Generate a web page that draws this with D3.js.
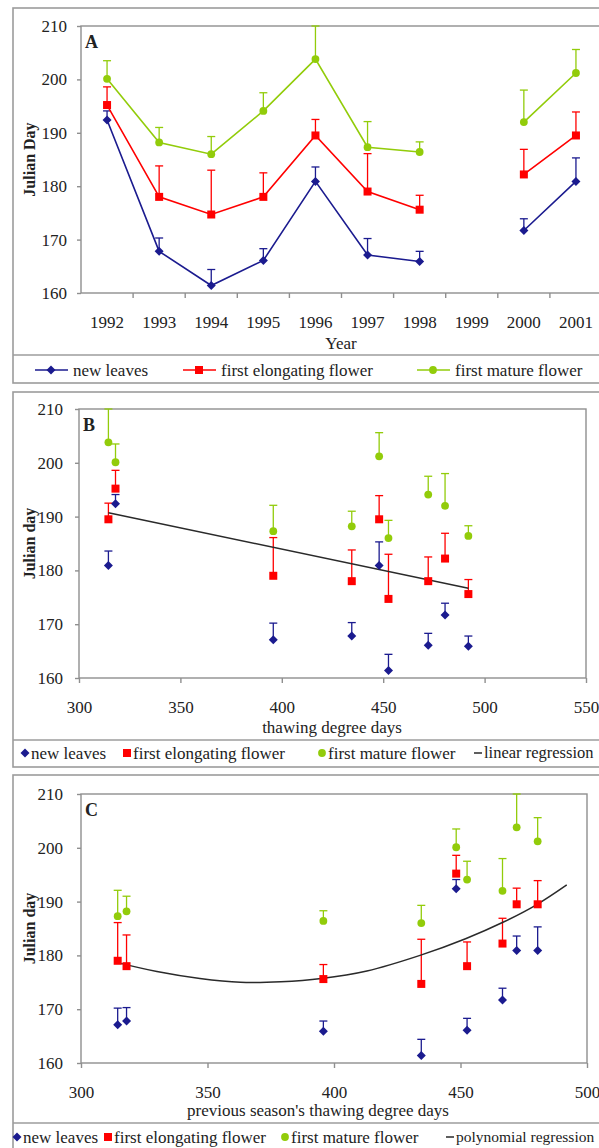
<!DOCTYPE html>
<html>
<head>
<meta charset="utf-8">
<script src="https://d3js.org/d3.v7.min.js"></script>
<style>
body { margin: 0; background: #fff; }
svg text { font-family: "Liberation Serif", "Times New Roman", serif; fill: #222; }
</style>
</head>
<body>
<div id="c"></div>
<script>
// phenology means and upper error (per year)
var years = ['1992', '1993', '1994', '1995', '1996', '1997', '1998', '1999', '2000', '2001'];

var new_leaves    = [192.4, 167.8, 161.4, 166.1, 180.9, 167.1, 165.9, null, 171.7, 180.9];
var new_leaves_se = [1.7, 2.5, 3.0, 2.2, 2.7, 3.1, 1.9, null, 2.2, 4.4];

var elong_flower    = [195.2, 178.0, 174.7, 178.0, 189.5, 179.0, 175.6, null, 182.2, 189.5];
var elong_flower_se = [3.4, 5.8, 8.3, 4.5, 3.0, 7.1, 2.7, null, 4.7, 4.4];

var mature_flower    = [200.1, 188.2, 186.0, 194.1, 203.8, 187.3, 186.4, null, 192.0, 201.2];
var mature_flower_se = [3.4, 2.8, 3.3, 3.4, 6.2, 4.8, 1.9, null, 6.0, 4.4];

// thawing degree days of the season and of the previous season
var tdd      = [318.0, 434.5, 452.6, 472.2, 314.5, 395.8, 492.0, null, 480.5, 448.0];
var prev_tdd = [448.3, 318.0, 434.5, 452.6, 472.2, 314.5, 395.8, null, 466.6, 480.5];

// fitted lines as drawn
var lin_x = [314.5, 492];
var lin_y = [190.7, 176.7];
var poly_x = [314, 330, 347, 363, 379, 395, 413, 434, 452, 467, 480, 492];
var poly_y = [178.7, 177.0, 175.7, 175.0, 175.1, 175.7, 177.1, 180.0, 183.1, 186.2, 189.4, 193.1];

var y_ticks = [160, 170, 180, 190, 200, 210];
var b_ticks = [300, 350, 400, 450, 500, 550];
var c_ticks = [300, 350, 400, 450, 500];

var width = 599, height = 1148;
var frame_col = '#8f8f8f';

var series = [
	{ name: 'new leaves', vals: new_leaves, se: new_leaves_se, color: '#1b1b8f', shape: 'diamond' },
	{ name: 'first elongating flower', vals: elong_flower, se: elong_flower_se, color: '#ff0000', shape: 'square' },
	{ name: 'first mature flower', vals: mature_flower, se: mature_flower_se, color: '#92cc0a', shape: 'circle' }
];

var svg = d3.select('#c').append('svg')
	.attr('width', width)
	.attr('height', height)
	.attr('font-family', '"Liberation Serif", serif');

function draw_marker(g, shape, x, y, color) {
	if (shape == 'diamond') {
		g.append('path')
			.attr('d', 'M' + x + ',' + (y - 4.5) + 'L' + (x + 4.5) + ',' + y + 'L' + x + ',' + (y + 4.5) + 'L' + (x - 4.5) + ',' + y + 'Z')
			.attr('fill', color);
	} else if (shape == 'square') {
		g.append('rect')
			.attr('x', x - 4).attr('y', y - 4)
			.attr('width', 8).attr('height', 8)
			.attr('fill', color);
	} else {
		g.append('circle')
			.attr('cx', x).attr('cy', y).attr('r', 3.9)
			.attr('fill', color);
	}
}

function draw_errbar(g, x, y0, y1, color) {
	g.append('line').attr('x1', x).attr('x2', x).attr('y1', y0).attr('y2', y1)
		.attr('stroke', color).attr('stroke-width', 1.3);
	g.append('line').attr('x1', x - 4).attr('x2', x + 4).attr('y1', y1).attr('y2', y1)
		.attr('stroke', color).attr('stroke-width', 1.3);
}

// outer box, plot box, y axis, y title, panel letter
function draw_frame(p, y_scale) {
	var g = svg.append('g');
	g.append('rect')
		.attr('x', 13).attr('y', p.box_top)
		.attr('width', 620).attr('height', p.box_bottom - p.box_top)
		.attr('fill', 'none').attr('stroke', '#9c9c9c').attr('stroke-width', 1.6);
	g.append('line')
		.attr('x1', 13).attr('x2', 640).attr('y1', p.sep).attr('y2', p.sep)
		.attr('stroke', '#9c9c9c').attr('stroke-width', 1.6);
	g.append('rect')
		.attr('x', p.left).attr('y', p.top)
		.attr('width', p.right - p.left).attr('height', p.bottom - p.top)
		.attr('fill', 'none').attr('stroke', frame_col).attr('stroke-width', 1.4);

	var ya = g.append('g')
		.attr('transform', 'translate(' + p.left + ',0)')
		.call(d3.axisLeft(y_scale).tickValues(y_ticks).tickSize(4).tickPadding(p.ypad));
	ya.attr('font-family', null);
	ya.select('.domain').remove();
	ya.selectAll('line').attr('stroke', frame_col).attr('stroke-width', 1.4);
	ya.selectAll('text').attr('font-size', 17);

	g.append('text')
		.attr('transform', 'translate(29,' + ((p.top + p.bottom) / 2) + ') rotate(-90)')
		.attr('text-anchor', 'middle')
		.attr('dy', '0.35em')
		.attr('font-size', 16)
		.attr('font-weight', 'bold')
		.text(p.ytitle);

	g.append('text')
		.attr('x', p.left + 4).attr('y', p.top + 22)
		.attr('font-size', 18)
		.attr('font-weight', 'bold')
		.text(p.letter);

	g.append('text')
		.attr('x', p.title_x).attr('y', p.title_y)
		.attr('text-anchor', 'middle')
		.attr('dy', '0.35em')
		.attr('font-size', 17)
		.text(p.xtitle);
	return g;
}

// ---------------- panel A
var pa = { box_top: 8, box_bottom: 383, sep: 355, left: 81, right: 602, top: 26, bottom: 293,
	ypad: 10, ytitle: 'Julian Day', letter: 'A', xtitle: 'Year', title_x: 341, title_y: 343 };

var a_x = d3.scaleBand().domain(years).range([pa.left, pa.right]);
var a_y = d3.scaleLinear().domain([160, 210]).range([pa.bottom, pa.top]);
var ga = draw_frame(pa, a_y);

var xa = ga.append('g')
	.attr('transform', 'translate(0,' + pa.bottom + ')')
	.call(d3.axisBottom(a_x).tickSize(0).tickPadding(23));
xa.attr('font-family', null);
xa.select('.domain').remove();
xa.selectAll('text').attr('font-size', 17);
// category tick marks sit between the years
ga.selectAll('.cat-tick')
	.data(years.slice(1))
	.enter()
	.append('line')
	.attr('x1', function(d) { return a_x(d); })
	.attr('x2', function(d) { return a_x(d); })
	.attr('y1', pa.bottom).attr('y2', pa.bottom + 5)
	.attr('stroke', frame_col).attr('stroke-width', 1.4);

function a_cx(i) { return a_x(years[i]) + a_x.bandwidth() / 2; }

series.forEach(function(s) {
	var g = ga.append('g');
	s.vals.forEach(function(v, i) {
		if (v == null) return;
		draw_errbar(g, a_cx(i), a_y(v), a_y(v + s.se[i]), s.color);
	});
	var line = d3.line()
		.defined(function(d) { return d[1] != null; })
		.x(function(d) { return a_cx(d[0]); })
		.y(function(d) { return a_y(d[1]); });
	g.append('path')
		.attr('d', line(s.vals.map(function(v, i) { return [i, v]; })))
		.attr('fill', 'none').attr('stroke', s.color).attr('stroke-width', 1.6);
	s.vals.forEach(function(v, i) {
		if (v == null) return;
		draw_marker(g, s.shape, a_cx(i), a_y(v), s.color);
	});
});

// legend A
var a_leg = [35, 183, 417];
series.forEach(function(s, k) {
	var lx = a_leg[k], ly = 370;
	ga.append('line').attr('x1', lx).attr('x2', lx + 33).attr('y1', ly).attr('y2', ly)
		.attr('stroke', s.color).attr('stroke-width', 1.6);
	draw_marker(ga, s.shape, lx + 16, ly, s.color);
	ga.append('text').attr('x', lx + 38).attr('y', ly).attr('dy', '0.33em')
		.attr('font-size', 17).text(s.name);
});

// ---------------- scatter panels B and C
function scatter_panel(p, xs, ticks, fit_x, fit_y, fit_curve, leg_pos, fit_name) {
	var x = d3.scaleLinear().domain([ticks[0], ticks[ticks.length - 1]]).range([p.left, p.right]);
	var y = d3.scaleLinear().domain([160, 210]).range([p.bottom, p.top]);
	var g = draw_frame(p, y);

	var xa = g.append('g')
		.attr('transform', 'translate(0,' + p.bottom + ')')
		.call(d3.axisBottom(x).tickValues(ticks).tickSize(5).tickPadding(18));
	xa.attr('font-family', null);
	xa.select('.domain').remove();
	xa.selectAll('line').attr('stroke', frame_col).attr('stroke-width', 1.4);
	xa.selectAll('text').attr('font-size', 17);

	series.forEach(function(s) {
		s.vals.forEach(function(v, i) {
			if (v == null) return;
			draw_errbar(g, x(xs[i]), y(v), y(v + s.se[i]), s.color);
		});
	});

	var fit = d3.line()
		.x(function(d) { return x(d[0]); })
		.y(function(d) { return y(d[1]); })
		.curve(fit_curve);
	g.append('path')
		.attr('d', fit(fit_x.map(function(v, i) { return [v, fit_y[i]]; })))
		.attr('fill', 'none').attr('stroke', '#2a2a2a').attr('stroke-width', 1.5);

	series.forEach(function(s) {
		s.vals.forEach(function(v, i) {
			if (v == null) return;
			draw_marker(g, s.shape, x(xs[i]), y(v), s.color);
		});
	});

	// legend
	var ly = p.leg_y;
	series.forEach(function(s, k) {
		draw_marker(g, s.shape, leg_pos[k], ly, s.color);
		g.append('text').attr('x', leg_pos[k] + 6).attr('y', ly).attr('dy', '0.33em')
			.attr('font-size', 17).text(s.name);
	});
	g.append('line').attr('x1', leg_pos[3]).attr('x2', leg_pos[3] + 8).attr('y1', ly).attr('y2', ly)
		.attr('stroke', '#2a2a2a').attr('stroke-width', 1.5);
	g.append('text').attr('x', leg_pos[3] + 10).attr('y', ly).attr('dy', '0.33em')
		.attr('font-size', p.fit_font).text(fit_name);
}

var pb = { box_top: 392, box_bottom: 767, sep: 740, left: 79, right: 586, top: 409, bottom: 678,
	ypad: 12, ytitle: 'Julian day', letter: 'B', xtitle: 'thawing degree days', title_x: 332, title_y: 727,
	leg_y: 753, fit_font: 16.5 };
scatter_panel(pb, tdd, b_ticks, lin_x, lin_y, d3.curveLinear, [25, 127, 322, 474], 'linear regression');

var pc = { box_top: 775, box_bottom: 1170, sep: 1123, left: 81, right: 587, top: 794, bottom: 1063,
	ypad: 14, ytitle: 'Julian day', letter: 'C', xtitle: "previous season's thawing degree days", title_x: 318, title_y: 1110,
	leg_y: 1137, fit_font: 15.5 };
scatter_panel(pc, prev_tdd, c_ticks, poly_x, poly_y, d3.curveCatmullRom, [17, 108, 285, 446], 'polynomial regression');
</script>
</body>
</html>
